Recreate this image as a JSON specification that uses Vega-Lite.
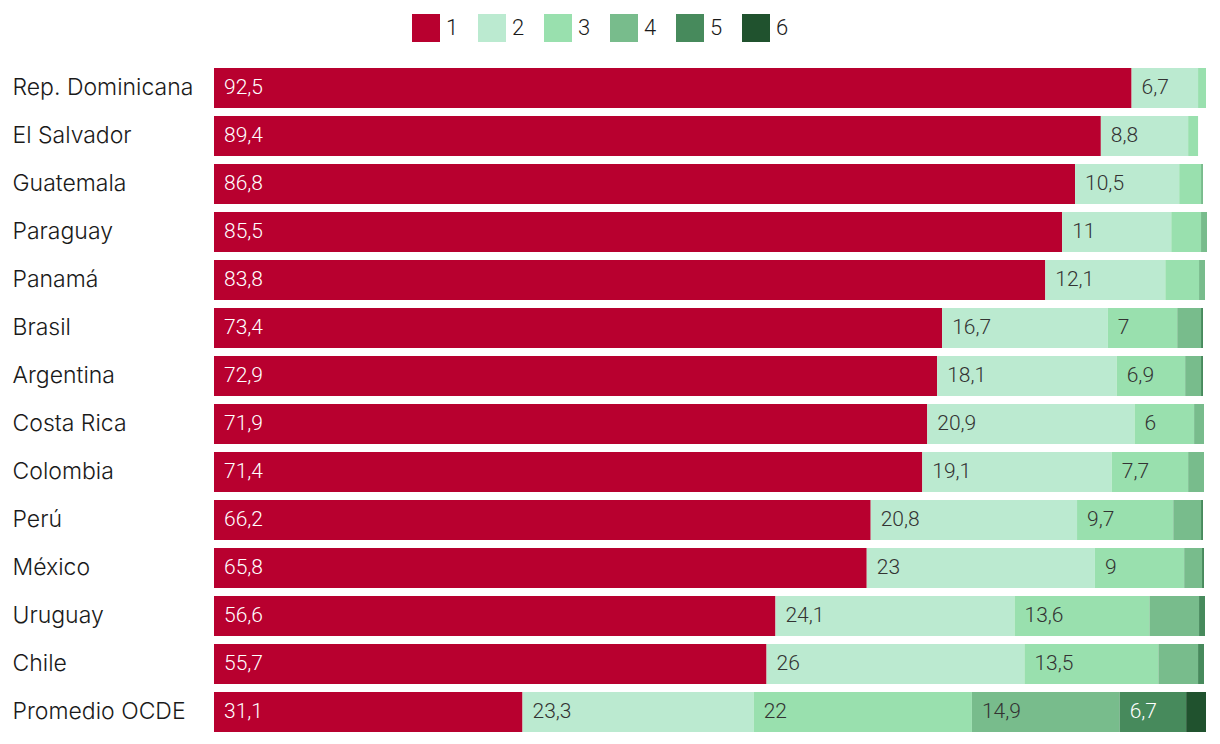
{
  "$schema": "https://vega.github.io/schema/vega-lite/v6.json",
  "autosize": "none",
  "width": 992,
  "height": 672,
  "padding": {"left": 214, "top": 64, "right": 14, "bottom": 8},
  "background": "white",
  "config": {
    "view": {"stroke": null},
    "font": "Roboto",
    "locale": {"number": {"decimal": ",", "thousands": ".", "grouping": [3], "currency": ["", ""]}}
  },
  "data": {"values": [
    {"country": "Rep. Dominicana", "seg": "1", "value": 92.5},
    {"country": "Rep. Dominicana", "seg": "2", "value": 6.7},
    {"country": "Rep. Dominicana", "seg": "3", "value": 0.8},
    {"country": "El Salvador", "seg": "1", "value": 89.4},
    {"country": "El Salvador", "seg": "2", "value": 8.8},
    {"country": "El Salvador", "seg": "3", "value": 1.0},
    {"country": "Guatemala", "seg": "1", "value": 86.8},
    {"country": "Guatemala", "seg": "2", "value": 10.5},
    {"country": "Guatemala", "seg": "3", "value": 2.2},
    {"country": "Guatemala", "seg": "4", "value": 0.2},
    {"country": "Paraguay", "seg": "1", "value": 85.5},
    {"country": "Paraguay", "seg": "2", "value": 11},
    {"country": "Paraguay", "seg": "3", "value": 3.0},
    {"country": "Paraguay", "seg": "4", "value": 0.6},
    {"country": "Panamá", "seg": "1", "value": 83.8},
    {"country": "Panamá", "seg": "2", "value": 12.1},
    {"country": "Panamá", "seg": "3", "value": 3.4},
    {"country": "Panamá", "seg": "4", "value": 0.6},
    {"country": "Brasil", "seg": "1", "value": 73.4},
    {"country": "Brasil", "seg": "2", "value": 16.7},
    {"country": "Brasil", "seg": "3", "value": 7},
    {"country": "Brasil", "seg": "4", "value": 2.4},
    {"country": "Brasil", "seg": "5", "value": 0.2},
    {"country": "Argentina", "seg": "1", "value": 72.9},
    {"country": "Argentina", "seg": "2", "value": 18.1},
    {"country": "Argentina", "seg": "3", "value": 6.9},
    {"country": "Argentina", "seg": "4", "value": 1.6},
    {"country": "Argentina", "seg": "5", "value": 0.2},
    {"country": "Costa Rica", "seg": "1", "value": 71.9},
    {"country": "Costa Rica", "seg": "2", "value": 20.9},
    {"country": "Costa Rica", "seg": "3", "value": 6},
    {"country": "Costa Rica", "seg": "4", "value": 1.0},
    {"country": "Colombia", "seg": "1", "value": 71.4},
    {"country": "Colombia", "seg": "2", "value": 19.1},
    {"country": "Colombia", "seg": "3", "value": 7.7},
    {"country": "Colombia", "seg": "4", "value": 1.6},
    {"country": "Perú", "seg": "1", "value": 66.2},
    {"country": "Perú", "seg": "2", "value": 20.8},
    {"country": "Perú", "seg": "3", "value": 9.7},
    {"country": "Perú", "seg": "4", "value": 2.8},
    {"country": "Perú", "seg": "5", "value": 0.2},
    {"country": "México", "seg": "1", "value": 65.8},
    {"country": "México", "seg": "2", "value": 23},
    {"country": "México", "seg": "3", "value": 9},
    {"country": "México", "seg": "4", "value": 1.8},
    {"country": "México", "seg": "5", "value": 0.2},
    {"country": "Uruguay", "seg": "1", "value": 56.6},
    {"country": "Uruguay", "seg": "2", "value": 24.1},
    {"country": "Uruguay", "seg": "3", "value": 13.6},
    {"country": "Uruguay", "seg": "4", "value": 5.0},
    {"country": "Uruguay", "seg": "5", "value": 0.6},
    {"country": "Chile", "seg": "1", "value": 55.7},
    {"country": "Chile", "seg": "2", "value": 26},
    {"country": "Chile", "seg": "3", "value": 13.5},
    {"country": "Chile", "seg": "4", "value": 4.0},
    {"country": "Chile", "seg": "5", "value": 0.6},
    {"country": "Promedio OCDE", "seg": "1", "value": 31.1},
    {"country": "Promedio OCDE", "seg": "2", "value": 23.3},
    {"country": "Promedio OCDE", "seg": "3", "value": 22},
    {"country": "Promedio OCDE", "seg": "4", "value": 14.9},
    {"country": "Promedio OCDE", "seg": "5", "value": 6.7},
    {"country": "Promedio OCDE", "seg": "6", "value": 2.0}
  ]},
  "transform": [
    {"stack": "value", "groupby": ["country"], "sort": [{"field": "seg", "order": "ascending"}], "as": ["x0", "x1"]}
  ],
  "encoding": {
    "y": {
      "field": "country", "type": "nominal", "sort": null,
      "scale": {"paddingInner": 0.1667, "paddingOuter": 0.0833},
      "axis": {"title": null, "domain": false, "ticks": false, "labelAlign": "left", "labelPadding": 202, "labelLimit": 300, "labelFontSize": 23, "labelFontWeight": 300, "labelColor": "#1a1a1a", "labelFont": "Inter"}
    }
  },
  "layer": [
    {
      "mark": {"type": "bar"},
      "encoding": {
        "x": {"field": "x0", "type": "quantitative", "scale": {"domain": [0, 100], "nice": false, "zero": true}, "axis": null},
        "x2": {"field": "x1"},
        "color": {
          "field": "seg", "type": "nominal",
          "scale": {"domain": ["1", "2", "3", "4", "5", "6"], "range": ["#b8002f", "#bbead0", "#99e0ae", "#78bc8c", "#478a5c", "#20522e"]},
          "legend": {"title": null, "orient": "none", "legendX": 198, "legendY": -50, "direction": "horizontal", "symbolType": "square", "symbolSize": 784, "symbolStrokeWidth": 0, "symbolOpacity": 1, "labelFontSize": 22, "labelFontWeight": 300, "labelColor": "#1a1a1a", "labelOffset": 6, "columnPadding": 19, "labelFont": "Roboto"}
        }
      }
    },
    {
      "transform": [{"filter": "datum.value >= 6"}],
      "mark": {"type": "text", "align": "left", "baseline": "middle", "dx": 10, "fontSize": 21, "font": "Roboto", "fontWeight": 300},
      "encoding": {
        "x": {"field": "x0", "type": "quantitative"},
        "text": {"field": "value", "type": "quantitative", "format": "~g"},
        "color": {
          "condition": {"test": "datum.seg == '1' || datum.seg == '5' || datum.seg == '6'", "value": "#ffffff"},
          "value": "#333333"
        }
      }
    }
  ]
}
